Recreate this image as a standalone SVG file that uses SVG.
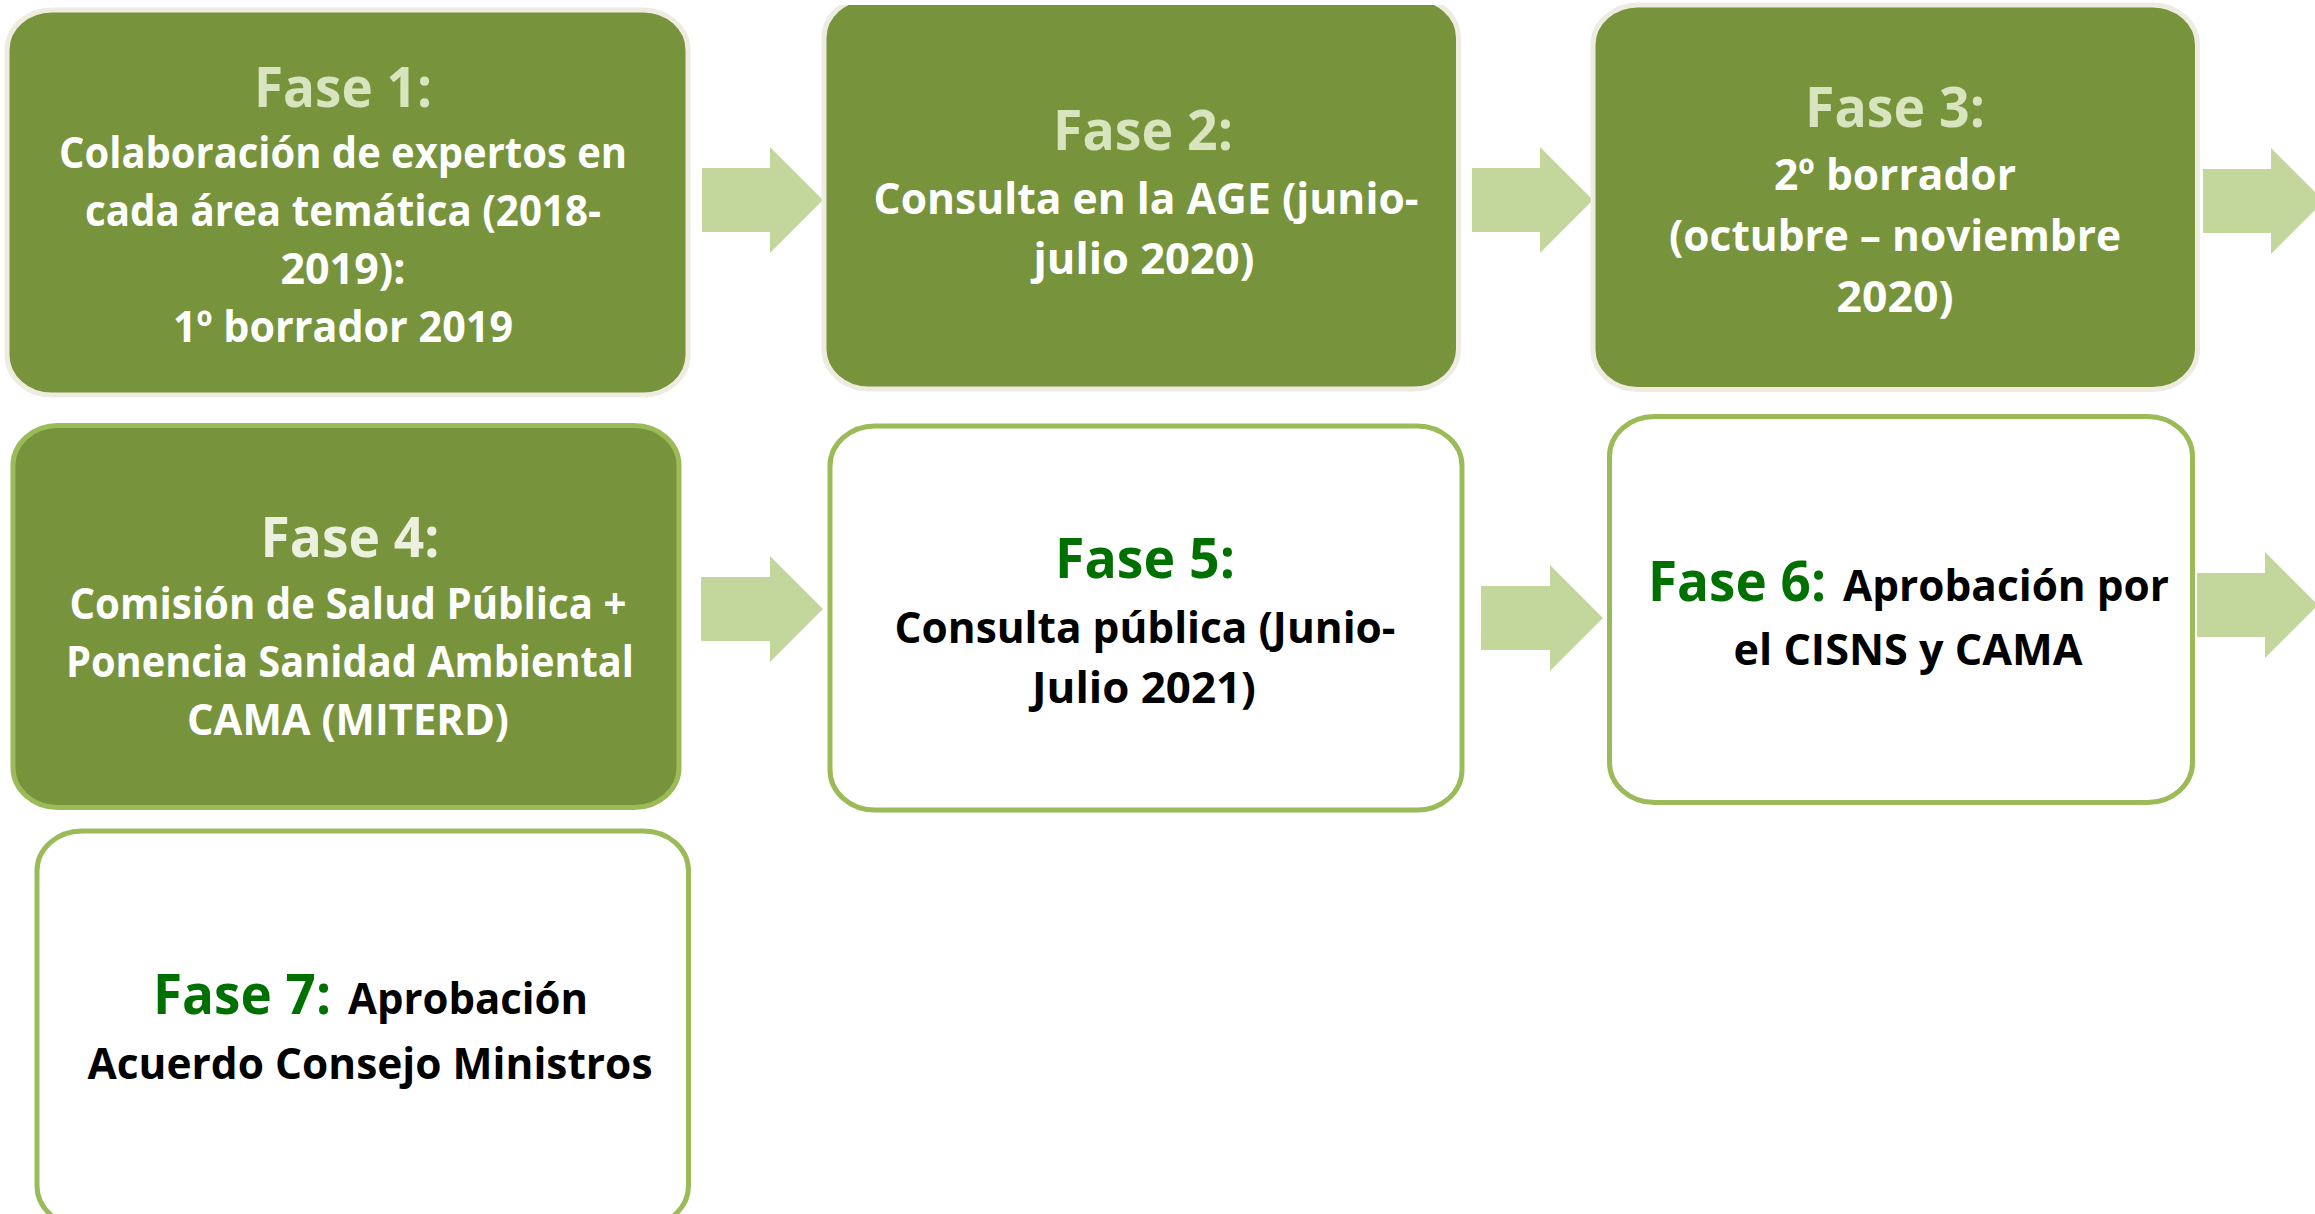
<svg xmlns="http://www.w3.org/2000/svg" width="2315" height="1214" viewBox="0 0 2315 1214">
<defs>
<style>
.g {fill:#77933C; stroke:#EEECE1; stroke-width:5}
.g4 {fill:#77933C; stroke:#9BBB59; stroke-width:5}
.w {fill:#FFFFFF; stroke:#9BBB59; stroke-width:5}
.arrow {fill:#C3D69B}
text {font-family:"Open Sans","Liberation Sans",sans-serif; font-weight:700}
.t1 {font-size:56px; fill:#D7E4BD}
.t4 {font-size:56px; fill:#EBF1DE}
.tg {font-size:56px; fill:#007000}
.bw {font-size:43px; fill:#FFFFFF}
.bk {font-size:43px; fill:#000000}
.m {text-anchor:middle}
</style>
<clipPath id="clipTop"><rect x="0" y="5" width="2315" height="1209"/></clipPath>
</defs>
<rect x="0" y="0" width="2315" height="1214" fill="#FFFFFF"/>

<g id="connectors">
<polygon class="arrow" points="702,168 770,168 770,147 823,200 770,253 770,232 702,232"/>
<polygon class="arrow" points="1472,168 1540,168 1540,147 1593,200 1540,253 1540,232 1472,232"/>
<polygon class="arrow" points="2203,169 2271,169 2271,148 2324,201 2271,254 2271,233 2203,233"/>
<polygon class="arrow" points="701,577 770,577 770,556 823,609 770,662 770,641 701,641"/>
<polygon class="arrow" points="1481,586 1550,586 1550,565 1603,618 1550,671 1550,650 1481,650"/>
<polygon class="arrow" points="2197,573 2265,573 2265,552 2318,605 2265,658 2265,637 2197,637"/>
</g>

<g id="fase1">
<rect class="g" x="7" y="10" width="681" height="385" rx="45" ry="40"/>
<text class="t1 m" x="343" y="107" textLength="178" lengthAdjust="spacingAndGlyphs">Fase 1:</text>
<text class="bw m" x="343" y="168" textLength="568" lengthAdjust="spacingAndGlyphs">Colaboración de expertos en</text>
<text class="bw m" x="343" y="226" textLength="516" lengthAdjust="spacingAndGlyphs">cada área temática (2018-</text>
<text class="bw m" x="343" y="284" textLength="125" lengthAdjust="spacingAndGlyphs">2019):</text>
<text class="bw m" x="343" y="342" textLength="340" lengthAdjust="spacingAndGlyphs">1º borrador 2019</text>
</g>

<g id="fase2">
<rect class="g" x="824" y="-2" width="634.5" height="391" rx="45" ry="40" clip-path="url(#clipTop)"/>
<text class="t1 m" x="1143" y="150" textLength="180" lengthAdjust="spacingAndGlyphs">Fase 2:</text>
<text class="bw m" x="1146" y="214" textLength="545" lengthAdjust="spacingAndGlyphs">Consulta en la AGE (junio-</text>
<text class="bw m" x="1144" y="274" textLength="221" lengthAdjust="spacingAndGlyphs">julio 2020)</text>
</g>

<g id="fase3">
<rect class="g" x="1593" y="5" width="604.5" height="384.5" rx="45" ry="40"/>
<text class="t1 m" x="1895" y="127" textLength="180" lengthAdjust="spacingAndGlyphs">Fase 3:</text>
<text class="bw m" x="1895" y="190" textLength="242" lengthAdjust="spacingAndGlyphs">2º borrador</text>
<text class="bw m" x="1895" y="251" textLength="452" lengthAdjust="spacingAndGlyphs">(octubre – noviembre</text>
<text class="bw m" x="1895" y="312" textLength="117" lengthAdjust="spacingAndGlyphs">2020)</text>
</g>

<g id="fase4">
<rect class="g4" x="13" y="425.5" width="666" height="382" rx="45" ry="40"/>
<text class="t4 m" x="350" y="557" textLength="179" lengthAdjust="spacingAndGlyphs">Fase 4:</text>
<text class="bw m" x="348" y="619" textLength="557" lengthAdjust="spacingAndGlyphs">Comisión de Salud Pública +</text>
<text class="bw m" x="350" y="677" textLength="568" lengthAdjust="spacingAndGlyphs">Ponencia Sanidad Ambiental</text>
<text class="bw m" x="348" y="735" textLength="322" lengthAdjust="spacingAndGlyphs">CAMA (MITERD)</text>
</g>

<g id="fase5">
<rect class="w" x="830" y="426" width="632" height="384" rx="45" ry="40"/>
<text class="tg m" x="1145" y="578" textLength="180" lengthAdjust="spacingAndGlyphs">Fase 5:</text>
<text class="bk m" x="1145" y="643" textLength="501" lengthAdjust="spacingAndGlyphs">Consulta pública (Junio-</text>
<text class="bk m" x="1144" y="703" textLength="224" lengthAdjust="spacingAndGlyphs">Julio 2021)</text>
</g>

<g id="fase6">
<rect class="w" x="1609.5" y="416.5" width="583" height="386" rx="45" ry="40"/>
<text class="tg" x="1648" y="601" textLength="178" lengthAdjust="spacingAndGlyphs">Fase 6:</text>
<text class="bk" x="1843" y="601" textLength="326" lengthAdjust="spacingAndGlyphs">Aprobación por</text>
<text class="bk m" x="1908" y="665" textLength="349" lengthAdjust="spacingAndGlyphs">el CISNS y CAMA</text>
</g>

<g id="fase7">
<rect class="w" x="37" y="831" width="651.5" height="395" rx="45" ry="40"/>
<text class="tg" x="153" y="1014" textLength="178" lengthAdjust="spacingAndGlyphs">Fase 7:</text>
<text class="bk" x="348" y="1014" textLength="240" lengthAdjust="spacingAndGlyphs">Aprobación</text>
<text class="bk m" x="370" y="1079" textLength="565" lengthAdjust="spacingAndGlyphs">Acuerdo Consejo Ministros</text>
</g>
</svg>
